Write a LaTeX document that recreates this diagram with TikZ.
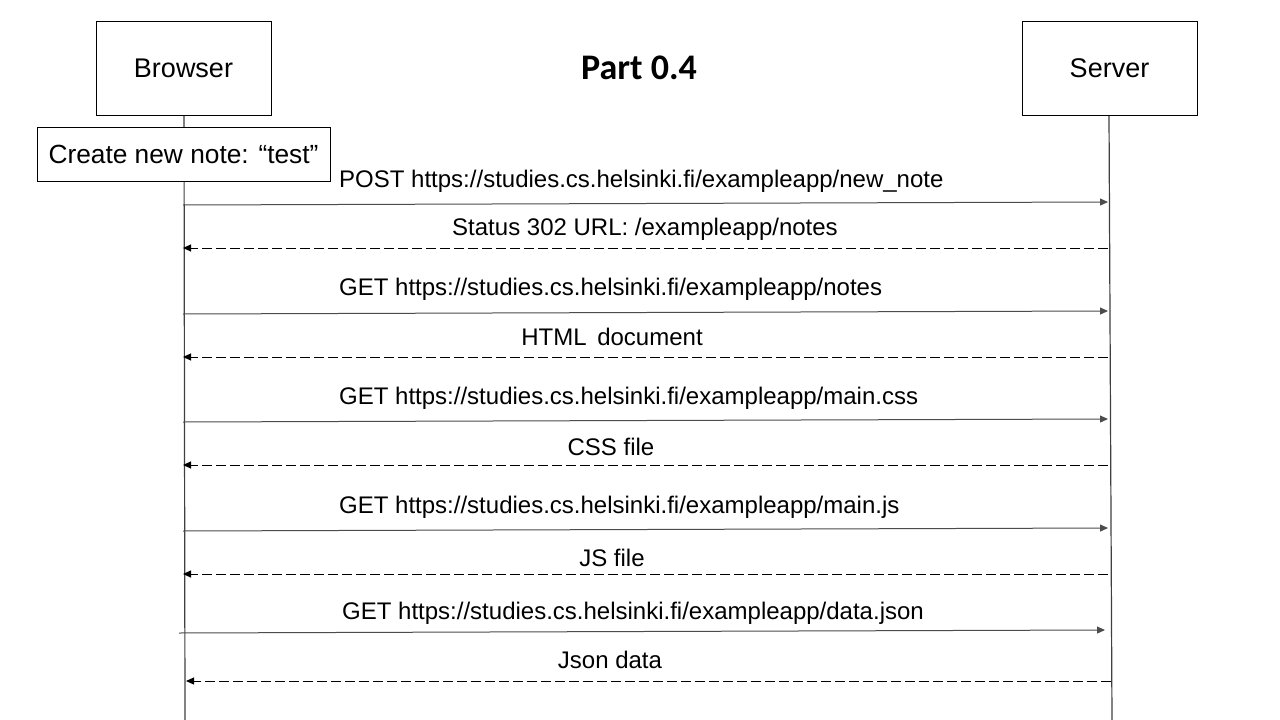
\documentclass[tikz,border=0pt]{standalone}
\usepackage{fontspec}
\setmainfont{Liberation Sans}
\newfontfamily\titlefont{Carlito}
\usetikzlibrary{arrows.meta}
\begin{document}
\begin{tikzpicture}[x=1pt,y=-1pt,
  actor/.style={draw=black,line width=0.9pt,fill=white,minimum width=175pt,minimum height=94pt,inner sep=0pt,font=\fontsize{27}{30}\selectfont},
  notebox/.style={draw=black,line width=0.9pt,fill=white,minimum width=293pt,minimum height=54pt,inner sep=0pt,font=\fontsize{26.3}{30}\selectfont},
  lifeline/.style={draw=black!75,line width=1.2pt},
  msg/.style={draw=black!70,line width=1pt,-{Triangle[length=8pt,width=7pt]}},
  reply/.style={draw=black,line width=1pt,dash pattern=on 10pt off 4pt,-{Triangle[length=8pt,width=7pt]}},
  lbl/.style={inner sep=0pt,font=\fontsize{24}{28}\selectfont},
]
\useasboundingbox (0,0) rectangle (1280,720);
\fill[white] (0,0) rectangle (1280,720);

% lifelines
\coordinate (bt) at (184,115);
\coordinate (bb) at (185,720);
\coordinate (st) at (1109,115);
\coordinate (sb) at (1112,720);
\draw[lifeline] (bt) -- (bb);
\draw[lifeline] (st) -- (sb);

% actors
\node[actor] (browser) at (183.5,68) {Browser};
\node[actor] (server) at (1109.5,68) {Server};
\node[inner sep=0pt,font=\titlefont\bfseries\fontsize{36}{40}\selectfont] (title) at (639,68) {Part 0.4};
\node[notebox] (note) at (183.5,154) {Create new note: “test”};

% message endpoints
\coordinate (b1) at (183,205);  \coordinate (s1) at (1108,202);
\coordinate (s2) at (1108,248); \coordinate (b2) at (183,248);
\coordinate (b3) at (183,314);  \coordinate (s3) at (1108,311);
\coordinate (s4) at (1108,357); \coordinate (b4) at (183,357);
\coordinate (b5) at (183,422);  \coordinate (s5) at (1108,419);
\coordinate (s6) at (1108,465); \coordinate (b6) at (183,465);
\coordinate (b7) at (183,531);  \coordinate (s7) at (1108,528);
\coordinate (s8) at (1108,574); \coordinate (b8) at (183,574);
\coordinate (b9) at (179,633);  \coordinate (s9) at (1105,630);
\coordinate (s10) at (1111,681); \coordinate (b10) at (186,681);

\draw[msg] (b1) -- (s1);
\draw[reply] (s2) -- (b2);
\draw[msg] (b3) -- (s3);
\draw[reply] (s4) -- (b4);
\draw[msg] (b5) -- (s5);
\draw[reply] (s6) -- (b6);
\draw[msg] (b7) -- (s7);
\draw[reply] (s8) -- (b8);
\draw[msg] (b9) -- (s9);
\draw[reply] (s10) -- (b10);

% labels
\node[lbl,anchor=west] (l1) at (339,181) {POST https://studies.cs.helsinki.fi/exampleapp/new\_note};
\node[lbl] (l2) at (645,229) {Status 302 URL: /exampleapp/notes};
\node[lbl,anchor=west] (l3) at (339,289) {GET https://studies.cs.helsinki.fi/exampleapp/notes};
\node[lbl] (l4) at (612,337) {HTML\, document};
\node[lbl,anchor=west] (l5) at (339,398) {GET https://studies.cs.helsinki.fi/exampleapp/main.css};
\node[lbl] (l6) at (611,447) {CSS file};
\node[lbl,anchor=west] (l7) at (339,507) {GET https://studies.cs.helsinki.fi/exampleapp/main.js};
\node[lbl] (l8) at (612,558) {JS file};
\node[lbl,anchor=west] (l9) at (342,613) {GET https://studies.cs.helsinki.fi/exampleapp/data.json};
\node[lbl] (l10) at (610,660) {Json data};
\end{tikzpicture}
\end{document}
